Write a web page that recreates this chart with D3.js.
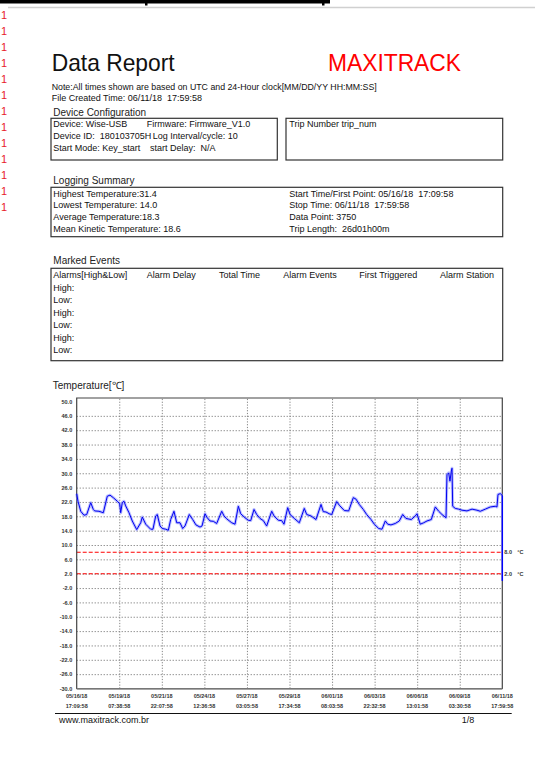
<!DOCTYPE html>
<html>
<head>
<meta charset="utf-8">
<script src="https://cdn.jsdelivr.net/npm/d3@7"></script>
<style>
body { margin: 0; background: #fff; }
svg { display: block; font-family: "Liberation Sans", Arial, Helvetica, sans-serif; }
</style>
</head>
<body>
<svg id="page" width="535" height="758"></svg>
<script>
// readings (hours after the first point, degC)
const hoursSinceStart = [0,1.9,5.9,10.7,14.7,20.6,24.4,26.4,32.7,39.1,
  44.9,48.9,53.7,59.6,63.1,64.6,66.9,69.4,71.9,76.8,
  81.6,88.1,94.0,96.3,101.3,108.6,112.0,116.0,118.3,122.3,
  125.7,130.7,134.5,138.0,142.8,146.8,151.7,155.6,159.0,165.3,
  170.3,175.1,181.0,184.0,188.4,191.7,195.7,200.6,205.5,212.9,
  216.3,220.2,227.6,232.4,237.3,240.8,247.1,251.9,255.5,260.3,
  264.3,269.1,274.0,278.9,286.3,289.7,296.0,301.0,304.3,309.8,
  313.2,319.5,326.8,334.1,337.7,344.0,351.3,358.7,362.0,366.0,
  370.8,374.4,381.7,385.5,392.9,399.3,406.1,410.0,414.9,420.8,
  425.7,432.1,436.9,443.4,448.2,453.1,456.6,461.4,467.7,473.6,
  478.6,483.4,491.2,497.1,499.6,504.4,509.4,514.3,520.6,526.5,
  531.5,536.3,542.2,543.6,546.1,548.0,550.0,551.0,552.0,555.8,
  560.8,565.7,573.0,580.4,587.7,592.5,599.9,607.2,614.5,617.0,
  618.5,621.9,624.8];
const temps = [24.3,22.2,19.4,18.3,18.5,21.8,19.9,19.5,19.4,19.0,
  23.6,23.9,23.2,22.2,21.5,19.0,21.8,22.2,20.9,19.0,
  16.7,14.3,16.2,17.8,15.8,14.4,14.4,18.1,18.5,15.3,
  14.6,14.4,14.1,17.1,19.4,16.2,16.2,14.6,15.3,18.5,
  17.1,15.6,15.0,15.3,18.7,17.6,16.7,16.6,16.0,19.4,
  18.1,17.3,16.2,15.8,20.8,18.7,17.6,16.9,16.8,19.9,
  18.5,17.4,16.8,15.3,19.4,18.1,16.9,16.8,15.8,20.4,
  18.5,17.4,16.2,20.2,18.5,18.1,17.1,21.3,19.3,19.2,
  18.7,18.5,22.1,21.1,19.6,19.5,23.2,22.8,21.3,19.9,
  18.5,17.1,15.8,14.6,14.4,16.7,15.8,15.6,16.0,16.7,
  18.5,17.4,17.1,18.1,18.7,15.8,16.2,16.7,17.1,20.6,
  19.4,18.5,17.6,29.6,30.1,27.8,30.6,31.4,20.8,20.2,
  20.0,19.7,19.5,20.0,19.7,19.4,20.0,20.6,20.8,20.6,
  24.1,24.3,23.8];

const yTicks = [50,46,42,38,34,30,26,22,18,14,10,6,2,-2,-6,-10,-14,-18,-22,-26,-30];
const xTickLabels = ["05/16/18 17:09:58","05/19/18 07:38:58","05/21/18 22:07:58","05/24/18 12:36:58",
  "05/27/18 03:05:58","05/29/18 17:34:58","06/01/18 08:03:58","06/03/18 22:32:58",
  "06/06/18 13:01:58","06/09/18 03:30:58","06/11/18 17:59:58"];
const alarmLimits = [8.0, 2.0];

// report text
const deviceLeft = ["Device: Wise-USB", "Device ID:  180103705H", "Start Mode: Key_start"];
const deviceRight = ["Firmware: Firmware_V1.0", "Log Interval/cycle: 10", "start Delay:  N/A"];
const summaryLeft = ["Highest Temperature:31.4", "Lowest Temperature: 14.0", "Average Temperature:18.3", "Mean Kinetic Temperature: 18.6"];
const summaryRight = ["Start Time/First Point: 05/16/18  17:09:58", "Stop Time: 06/11/18  17:59:58", "Data Point: 3750", "Trip Length:  26d01h00m"];
const eventHeaders = ["Alarms[High&Low]", "Alarm Delay", "Total Time", "Alarm Events", "First Triggered", "Alarm Station"];
const eventRows = ["High:", "Low:", "High:", "Low:", "High:", "Low:"];

const svg = d3.select("#page");

function label(x, y, s, o = {}) {
    const t = svg.append("text")
        .attr("x", x).attr("y", y)
        .attr("font-size", o.size || 9)
        .attr("fill", o.fill || "#111")
        .style("white-space", "pre")
        .text(s);
    if (o.anchor) t.attr("text-anchor", o.anchor);
    if (o.weight) t.attr("font-weight", o.weight);
    if (o.len) t.attr("textLength", o.len).attr("lengthAdjust", "spacingAndGlyphs");
    return t;
}

function box(x0, y0, x1, y1) {
    svg.append("rect")
        .attr("x", x0).attr("y", y0)
        .attr("width", x1 - x0).attr("height", y1 - y0)
        .attr("fill", "none")
        .attr("stroke", "#333")
        .attr("stroke-width", 1.2);
}

// viewer chrome around the page
svg.append("rect").attr("x", 0).attr("y", 0).attr("width", 330).attr("height", 3.5).attr("fill", "#000");
[146, 323].forEach(px => svg.append("rect").attr("x", px - 1).attr("y", 0).attr("width", 2.5).attr("height", 5.5).attr("fill", "#000"));
svg.append("line").attr("x1", 8).attr("x2", 535).attr("y1", 7.5).attr("y2", 7.5)
    .attr("stroke", "#d0d0d0").attr("stroke-width", 1.5);
d3.range(13).forEach(i => label(1, 19 + i * 16, "1", { size: 11, fill: "#e8202a" }));

// header
label(51.7, 70.7, "Data Report", { size: 24, len: 123 });
label(328, 70.7, "MAXITRACK", { size: 24, fill: "#ff0000", len: 133 });
label(51.7, 89.5, "Note:All times shown are based on UTC and 24-Hour clock[MM/DD/YY HH:MM:SS]", { size: 9, len: 325 });
label(51.7, 101, "File Created Time: 06/11/18  17:59:58", { size: 9 });

// device configuration
label(53.3, 115.7, "Device Configuration", { size: 10, fill: "#222" });
box(51, 118.3, 277.3, 160);
box(286, 118.3, 502.7, 160);
deviceLeft.forEach((s, i) => label(53.3, 126.7 + i * 12, s));
const devRightX = [146.7, 152.7, 150];
deviceRight.forEach((s, i) => label(devRightX[i], 126.7 + i * 12, s));
label(289.3, 126.7, "Trip Number trip_num");

// logging summary
label(53.3, 184.3, "Logging Summary", { size: 10, fill: "#222" });
box(51, 187.3, 502.7, 236.7);
summaryLeft.forEach((s, i) => label(53.3, 196.5 + i * 11.8, s));
summaryRight.forEach((s, i) => label(289.3, 196.5 + i * 11.8, s));

// marked events
label(53.3, 264, "Marked Events", { size: 10, fill: "#222" });
box(51, 268.3, 502.7, 360.7);
const headerX = [53.3, 146.7, 219, 283.3, 359.3, 440];
eventHeaders.forEach((s, i) => label(headerX[i], 278.3, s));
eventRows.forEach((s, i) => label(53.3, 291 + i * 12.45, s));

// temperature chart
label(52.7, 389, "Temperature[℃]", { size: 10, fill: "#222" });

const parseTime = d3.utcParse("%m/%d/%y %H:%M:%S");
const tickDates = xTickLabels.map(parseTime);
const start = tickDates[0];
const readings = hoursSinceStart.map((h, i) => ({ date: new Date(+start + h * 3600e3), t: temps[i] }));

const plot = { left: 76.7, right: 502.3, top: 401.5, bottom: 688.5 };
const x = d3.scaleUtc().domain([tickDates[0], tickDates[tickDates.length - 1]]).range([plot.left, plot.right]);
const y = d3.scaleLinear().domain([-30, 50]).range([plot.bottom, plot.top]);

const chart = svg.append("g");

// dotted grid
chart.append("g")
    .attr("transform", `translate(${plot.left},0)`)
    .call(d3.axisLeft(y).tickValues(yTicks.slice(1, -1)).tickSize(-(plot.right - plot.left)).tickFormat(""))
    .call(g => g.select(".domain").remove())
    .call(g => g.selectAll("line").attr("stroke", "#555").attr("stroke-width", 0.9).attr("stroke-dasharray", "1,2"));
chart.append("g")
    .attr("transform", `translate(0,${plot.bottom})`)
    .call(d3.axisBottom(x).tickValues(tickDates.slice(1, -1)).tickSize(-(plot.bottom - plot.top + 3.5)).tickFormat(""))
    .call(g => g.select(".domain").remove())
    .call(g => g.selectAll("line").attr("stroke", "#777").attr("stroke-width", 0.9).attr("stroke-dasharray", "1.2,1.6"));

// alarm limits
chart.selectAll(".limit").data(alarmLimits).enter().append("line")
    .attr("class", "limit")
    .attr("x1", plot.left).attr("x2", plot.right)
    .attr("y1", d => y(d)).attr("y2", d => y(d))
    .attr("stroke", "#ff0000").attr("stroke-width", 1.1).attr("stroke-dasharray", "4,2");
alarmLimits.forEach(v => {
    label(plot.right + 2, y(v) + 2, v.toFixed(1), { size: 5.5, weight: "bold", fill: "#333" });
    label(plot.right + 15, y(v) + 2, "°C", { size: 5.5, weight: "bold", fill: "#333" });
});

// frame
chart.append("path")
    .attr("d", `M${plot.left},${plot.top - 3.5}H${plot.right}V${plot.bottom}H${plot.left}Z`)
    .attr("fill", "none").attr("stroke", "#444").attr("stroke-width", 1.2);
chart.append("line")
    .attr("x1", plot.left).attr("x2", plot.right)
    .attr("y1", plot.bottom + 0.5).attr("y2", plot.bottom + 0.5)
    .attr("stroke", "#888").attr("stroke-width", 1.5);

// temperature trace
const line = d3.line().x(d => x(d.date)).y(d => y(d.t));
chart.append("path").datum(readings).attr("d", line)
    .attr("fill", "none").attr("stroke", "#7a82ff").attr("stroke-width", 3).attr("stroke-opacity", 0.5)
    .attr("stroke-linejoin", "round");
chart.append("path").datum(readings).attr("d", line)
    .attr("fill", "none").attr("stroke", "#0000f0").attr("stroke-width", 1)
    .attr("stroke-linejoin", "round");
chart.append("line")
    .attr("x1", plot.right).attr("x2", plot.right)
    .attr("y1", y(temps[temps.length - 1])).attr("y2", y(0))
    .attr("stroke", "#0000ff").attr("stroke-width", 1.5);

// axis labels
chart.append("g")
    .attr("transform", `translate(${plot.left},0)`)
    .call(d3.axisLeft(y).tickValues(yTicks).tickSize(0).tickPadding(4.5).tickFormat(d => d.toFixed(1)))
    .call(g => g.select(".domain").remove())
    .call(g => g.selectAll("text")
        .attr("font-family", '"Liberation Sans", Arial, sans-serif')
        .attr("font-size", 5.5).attr("font-weight", "bold").attr("fill", "#333"));

const xl = chart.selectAll(".xl").data(xTickLabels).enter().append("g").attr("class", "xl");
xl.append("text")
    .attr("x", (d, i) => x(tickDates[i])).attr("y", 697.5)
    .attr("text-anchor", "middle").attr("font-size", 5.5).attr("font-weight", "bold").attr("fill", "#333")
    .text(d => d.split(" ")[0]);
xl.append("text")
    .attr("x", (d, i) => x(tickDates[i])).attr("y", 707.5)
    .attr("text-anchor", "middle").attr("font-size", 5.5).attr("font-weight", "bold").attr("fill", "#333")
    .text(d => d.split(" ")[1]);

// footer
svg.append("line").attr("x1", 55).attr("x2", 511.7).attr("y1", 713.5).attr("y2", 713.5)
    .attr("stroke", "#111").attr("stroke-width", 1);
label(59, 722.7, "www.maxitrack.com.br", { size: 9 });
label(461.7, 722.7, "1/8", { size: 9 });
</script>
</body>
</html>
